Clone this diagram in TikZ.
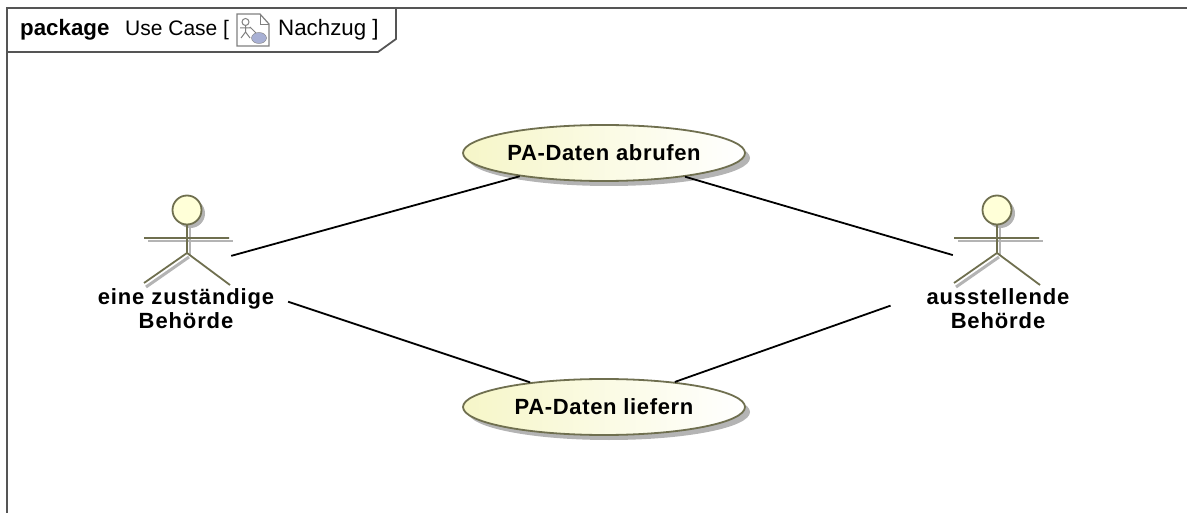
\documentclass[tikz,border=0pt]{standalone}
\usepackage{fontspec}
\setmainfont{Liberation Sans}
\usetikzlibrary{shapes.geometric,shadows}
\definecolor{actorline}{HTML}{6F6F4F}
\definecolor{actorfill}{HTML}{FFFFD8}
\definecolor{casefill}{HTML}{F6F6C8}
\definecolor{framegray}{HTML}{555555}
\definecolor{shadowgray}{HTML}{B4B4B4}
\definecolor{iconblue}{HTML}{A8B0D4}
\tikzset{
    usecase/.style={ellipse,draw=actorline,line width=1.8pt,minimum width=282pt,minimum height=56pt,inner sep=0pt,
        left color=casefill,right color=white,
        drop shadow={shadow xshift=5pt,shadow yshift=-5pt,fill=shadowgray,opacity=1},
        font=\fontsize{22}{24}\selectfont\bfseries\addfontfeature{LetterSpace=3}},
    actorbox/.style={minimum width=88pt,minimum height=60pt,inner sep=0pt},
    actorlabel/.style={align=center,inner sep=0pt,anchor=base,font=\fontsize{22}{24}\selectfont\bfseries\addfontfeature{LetterSpace=4}},
    titletext/.style={inner sep=0pt,anchor=base west,font=\fontsize{21}{24}\selectfont},
    assoc/.style={line width=1.8pt,black},
    pics/stickman/.style={code={
        \draw[shadowgray,line width=2pt] (3,-42) -- (3,-13) (-39,-27) -- (46,-27);
        \draw[shadowgray,line width=3pt] (-41,19) -- (2,-11);
        \fill[shadowgray] (3.5,-54.5) circle (14.5);
        \draw[actorline,line width=1.8pt] (0,-44) -- (0,-15) (-43,-30) -- (42,-30)
            (-43,15) -- (0,-15) -- (43,17);
        \draw[actorline,line width=1.8pt,fill=actorfill] (0,-58) circle (14.5);
    }}
}
\begin{document}
\begin{tikzpicture}[x=1pt,y=-1pt]
    \useasboundingbox (0,0) rectangle (1187,513);
    \draw[framegray,line width=1.8pt] (7,513) -- (7,8) -- (1187,8);
    \draw[framegray,line width=1.8pt] (7,52) -- (378,52) -- (396,39) -- (396,8);
    \node[titletext] (pkgword) at (20,36) {\fontsize{22.3}{24}\selectfont\bfseries package};
    \node[titletext] (pkgkind) at (125,36) {Use Case [};
    \node[titletext] (pkgname) at (278,36) {\fontsize{22.3}{24}\selectfont Nachzug ]};
    \draw[gray,line width=1.2pt,fill=white] (237,14) -- (260,14) -- (269,24) -- (269,46) -- (237,46) -- cycle;
    \draw[gray,line width=0.8pt] (260,14) -- (260,24) -- (269,24);
    \draw[gray,line width=1pt] (245.5,22) circle (3.5) (245.5,25.5) -- (245.5,32) (240,28) -- (251,28) (245.5,32) -- (241,38) (245.5,32) -- (250,38) (250,27) -- (256,33);
    \draw[gray,fill=iconblue] (259,38) ellipse (7.5 and 5.5);
    \node[usecase] (abrufen) at (604,153) {PA-Daten abrufen};
    \node[usecase] (liefern) at (604,407) {PA-Daten liefern};
    \node[actorbox] (zustaendig) at (187,268) {};
    \node[actorbox] (ausstellend) at (997,268) {};
    \pic at (zustaendig) {stickman};
    \pic at (ausstellend) {stickman};
    \node[actorlabel] (zustaendiglabel) at (186,328) {eine zuständige\\Behörde};
    \node[actorlabel] (ausstellendlabel) at (998,328) {ausstellende\\Behörde};
    \draw[assoc] (zustaendig) -- (abrufen);
    \draw[assoc] (ausstellend) -- (abrufen);
    \draw[assoc,shorten <=60pt] (zustaendig) -- (liefern);
    \draw[assoc,shorten <=66pt] (ausstellend) -- (liefern);
\end{tikzpicture}
\end{document}
